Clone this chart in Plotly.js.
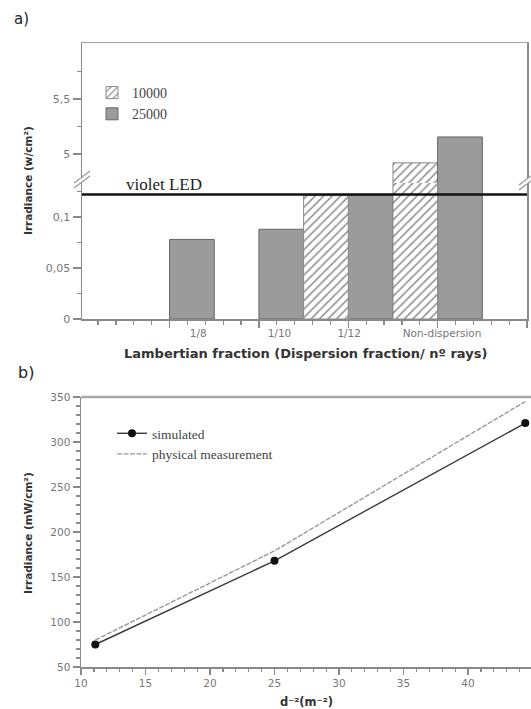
<!DOCTYPE html>
<html>
<head>
<meta charset="utf-8">
<script src="https://cdn.plot.ly/plotly-3.0.1.min.js"></script>
<style>
  html, body { margin: 0; padding: 0; background: #fff; overflow: hidden; }
  #chart { width: 531px; height: 709px; }
</style>
</head>
<body>
<div id="chart"></div>
<script>
// ---------- data (panel a) ----------
const categories = ['1/8', '1/10', '1/12', 'Non-dispersion'];
const rays10000 = [null, null, 0.121, 4.92];
const rays25000 = [0.078, 0.088, 0.121, 5.155];
const violetLED = 0.122;
const seriesNamesA = ['10000', '25000'];

// ---------- data (panel b) ----------
const dInv2 = [11.11, 25, 44.44];
const simulated = [75, 168, 321];
const physical = [80, 179, 345];
const seriesNamesB = ['simulated', 'physical measurement'];

// ---------- helpers ----------
const W = 531, H = 709;
const px = v => v / W;
const py = v => 1 - v / H;
const xPos = categories.map((c, i) => i + 1);
const labelShift = [0.32, 0.23, 0.01, 0.05];
const labelPos = xPos.map((v, i) => v + labelShift[i]);

const sans = 'DejaVu Sans, Verdana, sans-serif';
const serif = 'Liberation Serif, Times New Roman, serif';
const tickGray = '#777';
const axisGray = '#8a8a8a';

const hatch = { shape: '/', fgcolor: '#8c8c8c', bgcolor: '#ffffff', size: 6, solidity: 0.25 };
const solidGray = '#9b9b9b';

function barTrace(vals, name, xa, ya, show, patterned) {
  return {
    type: 'bar', x: xPos, y: vals, name: name,
    xaxis: xa, yaxis: ya, showlegend: show, legend: 'legend',
    width: 0.5, offset: patterned ? -0.5 : 0,
    marker: patterned
      ? { color: '#ffffff', pattern: hatch, line: { color: '#8a8a8a', width: 1 } }
      : { color: solidGray, line: { color: '#666', width: 1 } },
    hoverinfo: 'skip'
  };
}

const traces = [
  barTrace(rays10000, seriesNamesA[0], 'x3', 'y', true, true),
  barTrace(rays25000, seriesNamesA[1], 'x', 'y', true, false),
  barTrace(rays10000, seriesNamesA[0], 'x2', 'y2', false, true),
  barTrace(rays25000, seriesNamesA[1], 'x2', 'y2', false, false),
  {
    type: 'scatter', mode: 'lines+markers', x: dInv2, y: simulated, name: seriesNamesB[0],
    xaxis: 'x4', yaxis: 'y4', legend: 'legend2',
    line: { color: '#3a3a3a', width: 1.4 },
    marker: { color: '#111', size: 8, symbol: 'circle' }
  },
  {
    type: 'scatter', mode: 'lines', x: dInv2, y: physical, name: seriesNamesB[1],
    xaxis: 'x4', yaxis: 'y4', legend: 'legend2',
    line: { color: '#999', width: 1.4, dash: '5px,1.5px' }
  }
];

const xDomA = [px(82), px(527)];
const xRangeA = [0.02, 5.0];

const layout = {
  width: W, height: H,
  margin: { l: 0, r: 0, t: 0, b: 0 },
  paper_bgcolor: '#fff', plot_bgcolor: 'rgba(0,0,0,0)',
  separators: ',.',
  barmode: 'overlay',
  font: { family: sans, color: '#333' },
  showlegend: true,
  legend: {
    x: px(92), y: py(77), xanchor: 'left', yanchor: 'top',
    bgcolor: 'rgba(0,0,0,0)', tracegroupgap: 0,
    font: { family: serif, size: 14, color: '#444' },
    traceorder: 'normal'
  },
  legend2: {
    x: px(112), y: py(418), xanchor: 'left', yanchor: 'top',
    bgcolor: 'rgba(0,0,0,0)', tracegroupgap: 0,
    font: { family: serif, size: 13.5, color: '#444' }
  },
  // panel a, lower segment
  xaxis: {
    domain: xDomA, anchor: 'y', range: xRangeA, type: 'linear',
    showline: true, linecolor: axisGray, linewidth: 1.5,
    ticks: 'outside', tick0: 0, dtick: 1, ticklen: 7, tickcolor: axisGray, tickwidth: 1.2,
    minor: { dtick: 0.2, tick0: 0, ticks: 'outside', ticklen: 4, tickcolor: axisGray },
    showticklabels: false, showgrid: false, zeroline: false, fixedrange: true
  },
  xaxis3: {
    overlaying: 'x', anchor: 'y', side: 'bottom', range: xRangeA, type: 'linear',
    tickmode: 'array', tickvals: labelPos, ticktext: categories,
    ticks: 'outside', ticklen: 4, tickcolor: 'rgba(0,0,0,0)',
    tickfont: { family: sans, size: 10.5, color: tickGray },
    showline: false, showgrid: false, zeroline: false, fixedrange: true
  },
  yaxis: {
    domain: [py(319), py(183)], anchor: 'x', range: [0, (319 - 183) / 1020],
    showline: true, mirror: true, linecolor: axisGray, linewidth: 1.5,
    tickmode: 'array', tickvals: [0, 0.05, 0.1],
    ticks: 'outside', ticklen: 8, tickcolor: axisGray, tickwidth: 1.2,
    minor: { tickmode: 'array', tickvals: [0.025, 0.075, 0.125], ticks: 'outside', ticklen: 4, tickcolor: axisGray },
    tickfont: { family: sans, size: 11, color: tickGray },
    showgrid: false, zeroline: false, fixedrange: true
  },
  // panel a, upper segment
  xaxis2: {
    domain: xDomA, anchor: 'y2', range: xRangeA, side: 'top',
    showline: true, linecolor: '#a0a0a0', linewidth: 1.5,
    ticks: '', showticklabels: false, showgrid: false, zeroline: false, fixedrange: true
  },
  yaxis2: {
    domain: [py(183), py(43)], anchor: 'x2', range: [5 - 29 / 110, 5 + 111 / 110],
    showline: true, mirror: true, linecolor: axisGray, linewidth: 1.5,
    tickmode: 'array', tickvals: [5, 5.5],
    ticks: 'outside', ticklen: 8, tickcolor: axisGray, tickwidth: 1.2,
    minor: { tickmode: 'array', tickvals: [5.25, 5.75], ticks: 'outside', ticklen: 4, tickcolor: axisGray },
    tickfont: { family: sans, size: 11, color: tickGray },
    showgrid: false, zeroline: false, fixedrange: true
  },
  // panel b
  xaxis4: {
    domain: [px(81), 1], anchor: 'y4', range: [10, 10 + (W - 81) / 12.9],
    showline: true, linecolor: axisGray, linewidth: 1.5,
    tick0: 10, dtick: 5, ticks: 'outside', ticklen: 6, tickcolor: axisGray, tickwidth: 1.2,
    minor: { dtick: 1, ticks: 'outside', ticklen: 3, tickcolor: axisGray },
    tickfont: { family: sans, size: 10.5, color: tickGray },
    showgrid: false, zeroline: false, fixedrange: true
  },
  yaxis4: {
    domain: [py(667), py(397)], anchor: 'x4', range: [50, 350],
    showline: true, linecolor: axisGray, linewidth: 1.5,
    tick0: 50, dtick: 50, ticks: 'outside', ticklen: 7, tickcolor: axisGray, tickwidth: 1.2,
    minor: { dtick: 10, ticks: 'outside', ticklen: 4, tickcolor: axisGray },
    tickfont: { family: sans, size: 10.5, color: tickGray },
    showgrid: false, zeroline: false, fixedrange: true
  },
  shapes: [
    // violet LED reference level
    { type: 'line', xref: 'x domain', yref: 'y', x0: 0, x1: 1, y0: violetLED, y1: violetLED,
      line: { color: '#111', width: 2.6 }, layer: 'above' },
    // top border panel b
    { type: 'line', xref: 'paper', yref: 'paper', x0: px(81), x1: 1, y0: py(397), y1: py(397),
      line: { color: '#a8a8a8', width: 2.5 } },
    // axis break marks (left)
    { type: 'path', xref: 'paper', yref: 'paper',
      path: `M${px(74)},${py(188)} L${px(90)},${py(176)} L${px(90)},${py(171)} L${px(74)},${py(183)} Z`,
      fillcolor: '#fff', line: { width: 0 }, layer: 'above' },
    { type: 'line', xref: 'paper', yref: 'paper', x0: px(74), y0: py(188), x1: px(90), y1: py(176),
      line: { color: '#999', width: 1.2 }, layer: 'above' },
    { type: 'line', xref: 'paper', yref: 'paper', x0: px(74), y0: py(183), x1: px(90), y1: py(171),
      line: { color: '#999', width: 1.2 }, layer: 'above' },
    // axis break marks (right)
    { type: 'path', xref: 'paper', yref: 'paper',
      path: `M${px(519)},${py(190)} L${px(531)},${py(181)} L${px(531)},${py(176)} L${px(519)},${py(185)} Z`,
      fillcolor: '#fff', line: { width: 0 }, layer: 'above' },
    { type: 'line', xref: 'paper', yref: 'paper', x0: px(519), y0: py(190), x1: px(531), y1: py(181),
      line: { color: '#999', width: 1.2 }, layer: 'above' },
    { type: 'line', xref: 'paper', yref: 'paper', x0: px(519), y0: py(185), x1: px(531), y1: py(176),
      line: { color: '#999', width: 1.2 }, layer: 'above' }
  ],
  annotations: [
    { text: 'a)', xref: 'paper', yref: 'paper', x: px(12), y: py(19), xanchor: 'left', yanchor: 'middle',
      showarrow: false, font: { family: sans, size: 15, color: '#222' } },
    { text: 'b)', xref: 'paper', yref: 'paper', x: px(16), y: py(372), xanchor: 'left', yanchor: 'middle',
      showarrow: false, font: { family: sans, size: 16, color: '#222' } },
    { text: 'violet LED', xref: 'paper', yref: 'paper', x: px(124), y: py(184), xanchor: 'left', yanchor: 'middle',
      showarrow: false, font: { family: serif, size: 17, color: '#222' } },
    { text: '<b>Irradiance (w/cm²)</b>', xref: 'paper', yref: 'paper', x: px(28), y: py(181),
      xanchor: 'center', yanchor: 'middle', textangle: -90, showarrow: false,
      font: { family: sans, size: 10.5, color: '#333' } },
    { text: '<b>Lambertian fraction (Dispersion fraction/ nº rays)</b>', xref: 'paper', yref: 'paper',
      x: px(305), y: py(353), xanchor: 'center', yanchor: 'middle', showarrow: false,
      font: { family: sans, size: 13, color: '#333' } },
    { text: '<b>Irradiance (mW/cm²)</b>', xref: 'paper', yref: 'paper', x: px(28), y: py(533),
      xanchor: 'center', yanchor: 'middle', textangle: -90, showarrow: false,
      font: { family: sans, size: 10.5, color: '#333' } },
    { text: '<b>d⁻²(m⁻²)</b>', xref: 'paper', yref: 'paper', x: px(306), y: py(702),
      xanchor: 'center', yanchor: 'middle', showarrow: false,
      font: { family: sans, size: 11.5, color: '#333' } }
  ]
};

Plotly.newPlot('chart', traces, layout, { staticPlot: true, displayModeBar: false });
</script>
</body>
</html>
